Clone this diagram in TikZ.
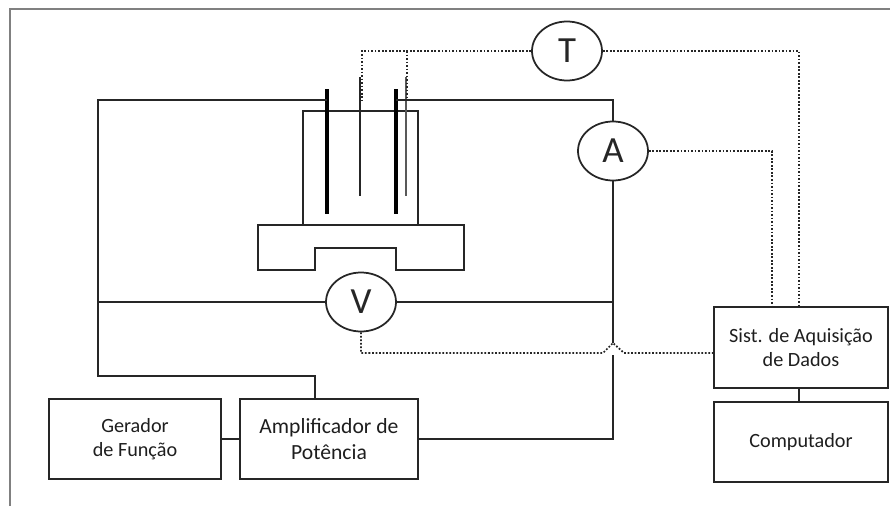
\documentclass[tikz,border=0pt]{standalone}
\usepackage{fontspec}
\setmainfont{Carlito}
\usetikzlibrary{calc, shapes}
\definecolor{myframe}{RGB}{128, 128, 128}
\definecolor{mytext}{RGB}{30, 30, 30}
\tikzset{
  wire/.style={line width=1pt, black!85},
  dotwire/.style={line width=1pt, black!85, dash pattern=on 1pt off 1pt},
  meter/.style={ellipse, draw, line width=1pt, black!85, text=black!85, minimum width=1.4cm, minimum height=1.18cm, inner sep=0pt, font=\fontsize{21}{21}\selectfont},
  unitbox/.style={rectangle, draw, line width=1pt, black!85, text=mytext, align=center, inner sep=0pt, minimum height=1.6cm, font=\fontsize{11.5}{14}\selectfont},
}
\begin{document}
\begin{tikzpicture}[scale=1]
\useasboundingbox (0, 0) rectangle (17.8, 10.12);
\draw[myframe, line width=1.1pt] (0.2, 0) -- (0.2, 9.94) -- (17.8, 9.94);

\node[meter] (T) at (11.34, 9.1) {T};
\node[meter] (A) at (12.26, 7.1) {A};
\node[meter] (V) at (7.22, 4.08) {V};

\node[unitbox, minimum width=3.44cm] (gerador) at (2.7, 1.34) {Gerador\\de Função};
\node[unitbox, minimum width=3.56cm, font=\fontsize{12.3}{14.7}\selectfont] (amp) at (6.58, 1.34) {Amplificador de\\Potência};
\node[unitbox, minimum width=3.48cm, minimum height=1.62cm] (sist) at (16.02, 3.17) {Sist. de Aquisição\\de Dados};
\node[unitbox, minimum width=3.48cm] (comp) at (16.02, 1.28) {Computador};

% cell and base
\draw[wire] (6.06, 5.62) -- (6.06, 7.9) -- (8.36, 7.9) -- (8.36, 5.62);
\draw[wire] (5.16, 5.62) -- (9.28, 5.62) -- (9.28, 4.72) -- (7.92, 4.72) -- (7.92, 5.16) -- (6.3, 5.16) -- (6.3, 4.72) -- (5.16, 4.72) -- cycle;

% electrodes
\coordinate (elecL) at (6.54, 8.12);
\coordinate (elecR) at (7.92, 8.12);
\draw[line width=1.8pt] (6.54, 8.34) -- (6.54, 5.84);
\draw[line width=1.8pt] (7.92, 8.34) -- (7.92, 5.84);
\draw[wire] (7.2, 8.58) -- (7.2, 6.2);
\draw[wire, black!65] (8.12, 8.58) -- (8.12, 6.2);

% power wires
\coordinate (cornerL) at (1.96, 8.12);
\coordinate (cornerB) at (1.96, 2.6);
\coordinate (junctV) at (1.96, 4.08);
\coordinate (junctR) at (12.26, 4.08);
\coordinate (gapTop) at (12.26, 3.26);
\coordinate (gapBot) at (12.26, 3.02);
\draw[wire] (elecL) -- (cornerL) -- (cornerB) -| (amp.north -| 6.3, 0);
\draw[wire] (elecR) -| (A.north);
\draw[wire] (A.south) -- (gapTop);
\draw[wire] (gapBot) |- (amp.east);
\draw[wire] (junctV) -- (V.west);
\draw[wire] (V.east) -- (junctR);
\draw[wire] (gerador.east) -- (amp.west);
\draw[wire] (sist.south -| 15.98, 0) -- (comp.north -| 15.98, 0);

% signal wires
\coordinate (probeL) at (7.24, 8.12);
\coordinate (probeR) at (8.14, 8.12);
\coordinate (sistT) at (15.98, 3.98);
\coordinate (sistA) at (15.44, 3.98);
\coordinate (sistV) at (14.28, 3.06);
\draw[dotwire] (T.west) -| (probeL);
\draw[dotwire] (8.14, 9.1) -- (probeR);
\draw[dotwire] (T.east) -| (sistT);
\draw[dotwire] (A.east) -| (sistA);
\draw[dotwire] (V.south) |- (12.06, 3.06) -- (gapTop) -- (12.48, 3.06) -- (sistV);

\end{tikzpicture}
\end{document}
